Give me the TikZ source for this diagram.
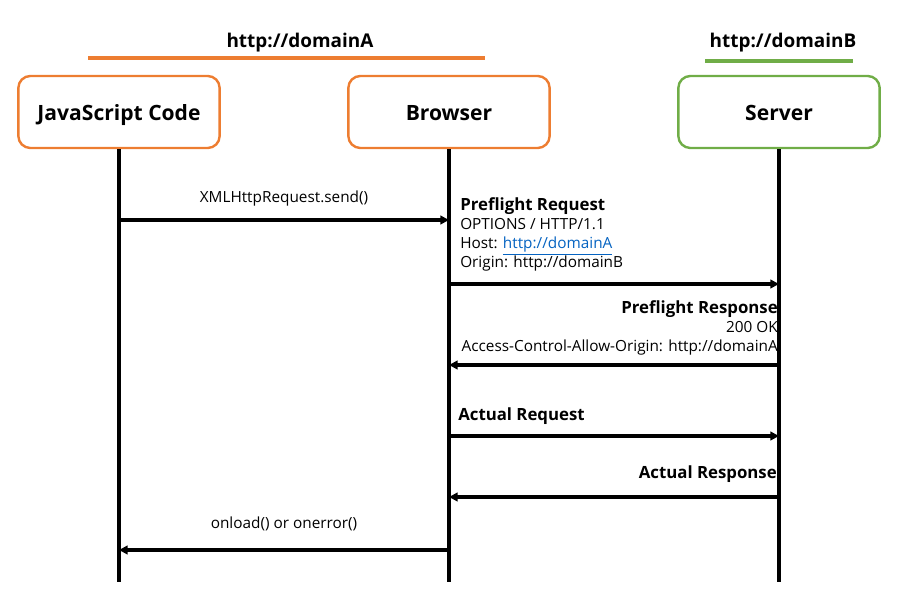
\documentclass[tikz,border=0pt]{standalone}
\usepackage{fontspec}
\setmainfont{Open Sans}
\usetikzlibrary{arrows.meta,positioning,calc}
\definecolor{domA}{HTML}{ED7D31}
\definecolor{domB}{HTML}{70AD47}
\definecolor{linkblue}{HTML}{0563C1}

\begin{document}
\begin{tikzpicture}[x=0.75pt,y=-0.75pt,font=\fontsize{11.5}{14.2}\selectfont,
  actor/.style={draw,line width=1.8pt,rounded corners=9pt,minimum width=151pt,minimum height=54pt,
    text height=13.5pt,text depth=0pt,font=\fontsize{15.8}{18}\selectfont\bfseries},
  life/.style={line width=2.3pt},
  msg/.style={line width=2.3pt,-{Triangle[length=6.5pt,width=6.5pt]}},
  originline/.style={line width=2.3pt},
  head/.style={font=\fontsize{14.2}{16}\selectfont\bfseries},
  lbl/.style={inner sep=0pt,align=left},
  bold/.style={lbl,font=\fontsize{12.6}{15}\selectfont\bfseries}]
  \useasboundingbox (0,0) rectangle (906,595);
  % participants
  \node[actor,draw=domA] (js) at (119,112) {JavaScript Code};
  \node[actor,draw=domA] (br) at (449,112) {Browser};
  \node[actor,draw=domB] (sv) at (779,112) {Server};
  % origins
  \coordinate (dA1) at (88,58);  \coordinate (dA2) at (485,58);
  \coordinate (dB1) at (705,61); \coordinate (dB2) at (853,61);
  \draw[originline,domA] (dA1) -- (dA2);
  \draw[originline,domB] (dB1) -- (dB2);
  \node[head] (hA) at (300,43) {http://domainA};
  \node[head] (hB) at (783,43) {http://domainB};
  % lifelines
  \coordinate (bottom) at (0,582);
  \draw[life] (js.south) -- (js |- bottom);
  \draw[life] (br.south) -- (br |- bottom);
  \draw[life] (sv.south) -- (sv |- bottom);
  % message rows
  \coordinate (r1) at (0,220);
  \coordinate (r2) at (0,284);
  \coordinate (r3) at (0,365);
  \coordinate (r4) at (0,436);
  \coordinate (r5) at (0,497);
  \coordinate (r6) at (0,550);
  \draw[msg] (js |- r1) -- node[above=9.5pt,lbl]{XMLHttpRequest.send()} (br |- r1);
  \draw[msg] (br |- r2) -- (sv |- r2);
  \node[lbl,anchor=south west] (preq) at ($(br |- r2)+(11,-12.5)$)
    {{\fontsize{12.6}{15}\selectfont\bfseries Preflight Request}\\OPTIONS / HTTP/1.1\\Host: \textcolor{linkblue}{\underline{http://domainA}}\\Origin: http://domainB};
  \draw[msg] (sv |- r3) -- (br |- r3);
  \node[lbl,anchor=south east,align=right] (pres) at ($(sv |- r3)+(-1,-10)$)
    {{\fontsize{12.6}{15}\selectfont\bfseries Preflight Response}\\200 OK\\Access-Control-Allow-Origin: http://domainA};
  \draw[msg] (br |- r4) -- (sv |- r4);
  \node[bold,anchor=south west] (areq) at ($(br |- r4)+(9,-11)$) {Actual Request};
  \draw[msg] (sv |- r5) -- (br |- r5);
  \node[bold,anchor=south east] (ares) at ($(sv |- r5)+(-2,-14)$) {Actual Response};
  \draw[msg] (br |- r6) -- node[above=13.5pt,lbl]{onload() or onerror()} (js |- r6);
\end{tikzpicture}
\end{document}
